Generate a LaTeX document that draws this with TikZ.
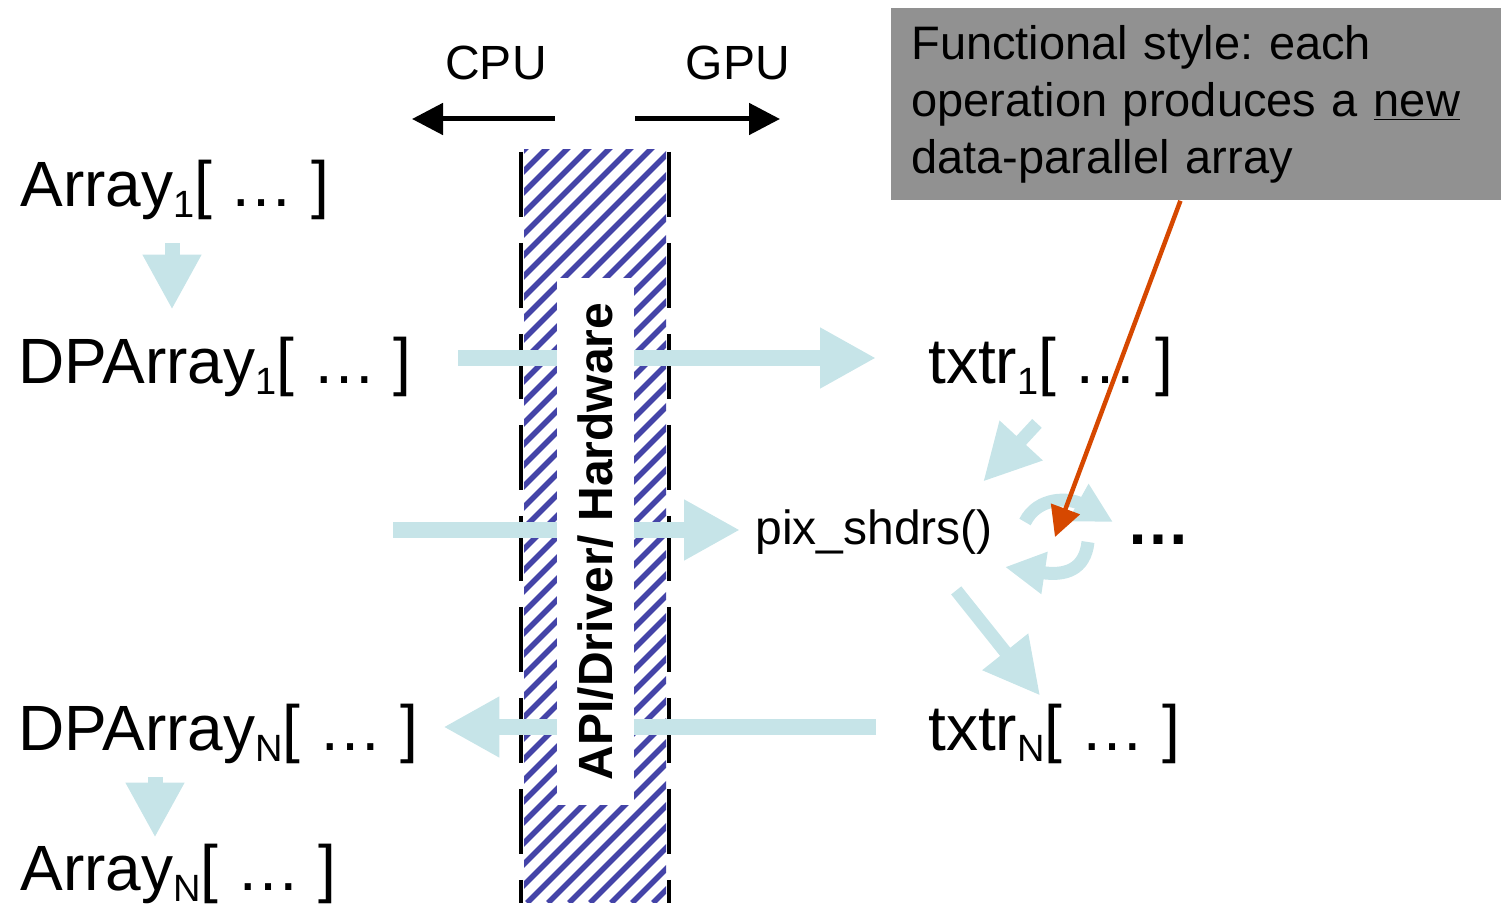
\documentclass[tikz,border=0pt]{standalone}
\usepackage{fontspec}
\setmainfont{Liberation Sans}
\usetikzlibrary{arrows.meta}
\frenchspacing

\definecolor{flowblue}{RGB}{198,228,232}
\definecolor{hatchblue}{RGB}{68,68,168}
\definecolor{notegray}{RGB}{145,145,145}
\definecolor{pointred}{RGB}{214,72,0}

\newcommand{\idx}[1]{\raisebox{-5.5pt}{\fontsize{19}{19}\selectfont #1}}

\tikzset{
  arrlabel/.style={anchor=base west, inner sep=0pt, text height=24pt, text depth=10pt, font=\fontsize{32}{32}\selectfont},
  sidelabel/.style={anchor=base, inner sep=0pt, font=\fontsize{24}{24}\selectfont},
  pixlabel/.style={anchor=base west, inner sep=0pt, text height=18pt, text depth=6pt, font=\fontsize{24}{24}\selectfont},
  notebox/.style={anchor=north west, fill=notegray, text width=285pt, minimum height=96pt, inner xsep=10pt, inner ysep=0pt, align=left, font=\fontsize{23.5}{28.5}\selectfont},
  hwbox/.style={fill=white, rotate=90, minimum width=263.5pt, minimum height=38.5pt, inner sep=0pt, font=\fontsize{24}{24}\selectfont\bfseries},
  flow/.style={draw=flowblue, line width=8pt, -{Triangle[length=28pt,width=28.5pt]}},
  flowthin/.style={draw=flowblue, line width=6.5pt, -{Triangle[length=28pt,width=27.5pt]}},
  flowdown/.style={draw=flowblue, line width=7.5pt, -{Triangle[length=27.5pt,width=27.5pt]}},
  flowloop/.style={draw=flowblue, line width=6.5pt, -{Triangle[length=20pt,width=20pt]}},
  dirarrow/.style={draw=black, line width=2.5pt, -{Triangle[length=15.5pt,width=15.5pt]}},
  pointer/.style={draw=pointred, line width=2.25pt, -{Triangle[length=15pt,width=15pt]}},
  hatch/.style={draw=hatchblue, line width=2.75pt},
  bandedge/.style={draw=black, line width=2pt, dash pattern=on 32.5pt off 13pt}
}

\begin{document}
\begin{tikzpicture}[x=0.5pt, y=-0.5pt]
    \useasboundingbox (0,0) rectangle (1501,908);

    % Hatched API band
    \begin{scope}
      \clip (524,150) rectangle (666,903);
      \foreach \s in {-250,-229,...,680}
        \draw[hatch] (\s,903) -- ++(770,-770);
    \end{scope}
    \draw[bandedge] (521,152) -- (521,903);
    \draw[bandedge] (669,152) -- (669,903);

    % CPU / GPU sides
    \node[sidelabel] (cpu) at (496,80) {CPU};
    \node[sidelabel] (gpu) at (738,80) {GPU};
    \coordinate (cpufrom) at (555,119);
    \coordinate (cputo) at (412,119);
    \coordinate (gpufrom) at (635,119);
    \coordinate (gputo) at (780,119);
    \draw[dirarrow] (cpufrom) -- (cputo);
    \draw[dirarrow] (gpufrom) -- (gputo);

    % Arrays on both sides
    \node[arrlabel] (arr1) at (20,207) {Array\idx{1}[ … ]};
    \node[arrlabel] (dp1) at (18,384) {DPArray\idx{1}[ … ]};
    \node[arrlabel] (tx1) at (928,384) {txtr\idx{1}[ … ]};
    \node[pixlabel] (pix) at (755,545) {pix\_shdrs()};
    \node[anchor=base west, inner sep=0pt, font=\fontsize{32}{32}\selectfont\bfseries] (dots) at (1126,545) {…};
    \node[arrlabel] (txN) at (928,751) {txtr\idx{N}[ … ]};
    \node[arrlabel] (dpN) at (18,751) {DPArray\idx{N}[ … ]};
    \node[arrlabel] (arrN) at (20,891) {Array\idx{N}[ … ]};

    % Data flow
    \draw[flowdown, shorten <=8pt, shorten >=13pt] ([xshift=76pt]arr1.south west) -- ([xshift=77pt]dp1.north west);
    \draw[flow, shorten <=23pt, shorten >=26pt] ([yshift=6pt]dp1.east) -- ([yshift=6pt]tx1.west);
    \coordinate (feed) at (393,530);
    \draw[flow, shorten >=7.5pt] (feed) -- (feed -| pix.west);
    \draw[flowthin] ([xshift=-7pt,yshift=-9.5pt]tx1.south) -- ([xshift=-5pt,yshift=13.5pt]pix.north east);
    \draw[flowthin] ([xshift=-18.5pt,yshift=-16.5pt]pix.south east) -- ([xshift=-7pt,yshift=3.5pt]txN.north);
    \draw[flow, shorten <=26pt, shorten >=12.5pt] ([yshift=5pt]txN.west) -- ([yshift=5pt]dpN.east);
    \draw[flowdown, shorten <=3pt, shorten >=2.5pt] ([xshift=68.5pt]dpN.south west) -- ([xshift=67.5pt]arrN.north west);

    % Repeated passes
    \draw[flowloop] (1025,522) .. controls (1038,496) and (1070,498) .. (1113,522);
    \draw[flowloop] (1088,542) .. controls (1085,570) and (1065,576) .. (1005,567);

    % Driver layer
    \node[hwbox] (hw) at (595.5,541.5) {API/Driver/ Hardware};

    % Remark
    \node[notebox] (note) at (891,8) {Functional style: each\\ operation produces a \underline{new}\\ data-parallel array};
    \coordinate (hit) at (1055,537);
    \draw[pointer] ([xshift=-8pt]note.south) -- (hit);
\end{tikzpicture}
\end{document}
